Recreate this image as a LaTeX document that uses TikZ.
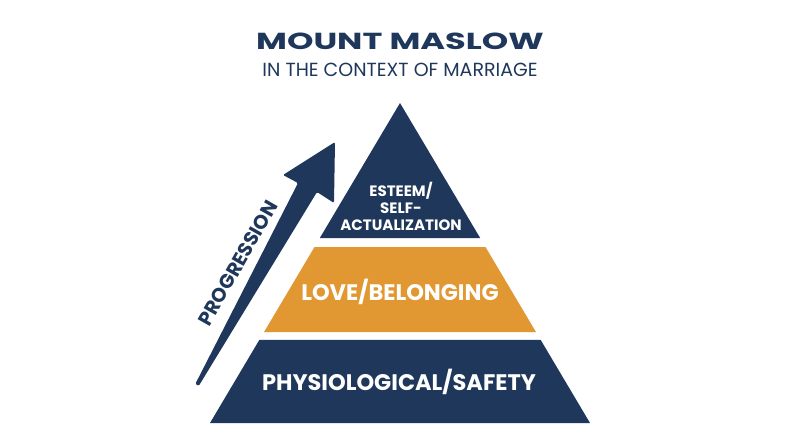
\documentclass[tikz,border=0pt]{standalone}
\usepackage{fontspec}
\setmainfont{Poppins}
\usetikzlibrary{positioning,calc}
\definecolor{navy}{HTML}{1E375A}
\definecolor{amber}{HTML}{E29832}
\tikzset{
	caps/.style={inner sep=0pt, text depth=0pt}, % text height = cap height, so centres sit on the letters
	heading/.style={caps, text=navy, font=\bfseries\fontsize{16.5}{19}\selectfont\addfontfeatures{FakeStretch=1.45}, text height=11.55pt},
	subheading/.style={caps, text=navy, font=\fontsize{13.5}{16}\selectfont, text height=9.45pt},
	tier label/.style={caps, text=white, font=\bfseries\fontsize{16}{19}\selectfont, text height=11.2pt},
	top label/.style={inner sep=0pt, text=white, align=center, font=\bfseries\fontsize{10.7}{12.1}\selectfont},
	side label/.style={caps, text=navy, font=\bfseries\fontsize{14}{16}\selectfont, text height=9.8pt}
}
\begin{document}
\begin{tikzpicture}[x=0.025cm, y=-0.025cm]
	\useasboundingbox (0,0) rectangle (800,447);
	% title
	\node[heading] (title) at (400,41) {MOUNT MASLOW};
	\node[subheading] (subtitle) [below=0.35cm of title] {IN THE CONTEXT OF MARRIAGE};
	% pyramid, cut from one triangle
	\coordinate (apex) at (400,103);
	\coordinate (bl) at (210,423);
	\coordinate (br) at (590,423);
	\foreach \t/\b/\c in {0/0.4219/navy, 0.45/0.7156/amber, 0.7406/1/navy}
		\fill[\c] ($(apex)!\t!(bl)$) -- ($(apex)!\b!(bl)$) -- ($(apex)!\b!(br)$) -- ($(apex)!\t!(br)$) -- cycle;
	\node[top label] (esteem) at (401,206) {ESTEEM/\\SELF-\\ACTUALIZATION};
	\node[tier label] (love) at (400,292.5) {LOVE/BELONGING};
	\node[tier label] (physio) at (399,382.5) {PHYSIOLOGICAL/SAFETY};
	% progression arrow
	\coordinate (tail l) at (195.3,384);
	\coordinate (tail r) at (198.7,386);
	\coordinate (tip) at (335,142);
	\fill[navy, rounded corners=1pt] (tail l) -- (298,183) -- (283,175) -- (tip) -- (334,203) -- (317,192) -- (tail r) -- cycle;
	\node[side label, rotate=60.4] (prog) at (238,263) {PROGRESSION};
\end{tikzpicture}
\end{document}
